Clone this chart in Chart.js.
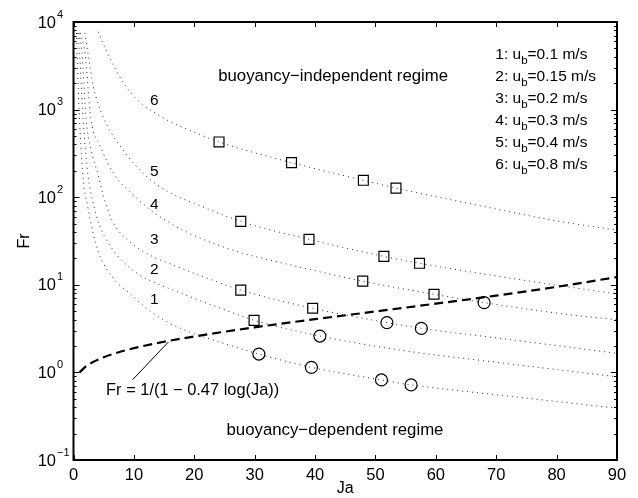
<!DOCTYPE html>
<html>
<head>
<meta charset="utf-8">
<script src="https://cdn.jsdelivr.net/npm/chart.js@4/dist/chart.umd.min.js"></script>
<style>
html,body{margin:0;padding:0;background:#fff;}
#wrap{width:638px;height:498px;}
</style>
</head>
<body>
<div id="wrap"><canvas id="c" width="638" height="498"></canvas></div>
<script>
// ---------------- data ----------------
const xTickValues = [0, 10, 20, 30, 40, 50, 60, 70, 80, 90];
const yMajorTicks = [0.1, 1, 10, 100, 1000, 10000];
const yTickExponents = ['\u22121', '0', '1', '2', '3', '4'];

const curve1Ja = [0.5, 0.6, 1.0, 1.6, 2.4, 3.2, 4.1, 5.4, 7.1, 9.3, 12.1, 15.4, 19.2, 24.8, 30.7, 39.4, 51, 55.9, 70.6, 90];
const curve1Fr = [7500, 4400, 760, 164, 75, 40, 23.9, 15.4, 10.8, 8.0, 5.4, 3.8, 2.9, 2.15, 1.62, 1.14, 0.82, 0.72, 0.55, 0.39];

const curve2Ja = [0.7, 1.0, 1.6, 2.4, 3.2, 4.3, 6.0, 8.2, 11, 13.7, 16.5, 22, 27.5, 29.9, 40.8, 54, 70.6, 90];
const curve2Fr = [7500, 4400, 760, 179, 89, 48, 28.4, 18.4, 12.9, 10.4, 8.7, 6.2, 4.5, 3.93, 2.6, 1.8, 1.29, 0.89];

const curve3Ja = [0.9, 1.4, 2.1, 3.0, 4.1, 4.9, 6.5, 9.3, 12.6, 16.5, 22, 27.7, 39.6, 51.9, 57.6, 70.6, 90];
const curve3Fr = [7500, 4400, 760, 330, 179, 106, 52.5, 31, 21.9, 16.8, 12.0, 8.7, 5.4, 3.7, 3.18, 2.45, 1.65];

const curve4Ja = [1.1, 1.9, 2.9, 4.3, 6.8, 9.3, 11, 14.3, 19.2, 27.5, 32.5, 47.9, 59.7, 68, 82.8, 90];
const curve4Fr = [7500, 4400, 760, 400, 179, 116, 90, 60, 38.7, 23.5, 19.2, 11.0, 7.8, 6.25, 4.5, 4.0];

const curve5Ja = [1.9, 2.4, 3.3, 4.9, 8.2, 12, 16, 20, 27.7, 39, 51.4, 57.3, 73.4, 90];
const curve5Fr = [7500, 4400, 1820, 830, 346, 175, 112, 85, 53, 33, 21.1, 17.6, 11.6, 7.85];

const curve6Ja = [4.1, 4.9, 6.6, 8.5, 11, 13.2, 16, 19.8, 24.1, 36.1, 48, 53.4, 68.1, 79.1, 90];
const curve6Fr = [7740, 5710, 3230, 1910, 1210, 946, 728, 560, 427, 248, 156, 127, 78, 55, 42];

const criterionJa = [1, 2, 3, 5, 7.5, 10, 15, 20, 30, 40, 50, 60, 70, 80, 90];
const criterionFr = [1.0, 1.165, 1.29, 1.49, 1.70, 1.89, 2.24, 2.57, 3.27, 4.05, 4.96, 6.09, 7.53, 9.48, 12.25];

const leaderJa = [15.7, 9.8];
const leaderFr = [2.22, 0.826];

const squareJa = [24.1, 36.1, 48, 53.4, 27.7, 39, 51.4, 57.3, 47.9, 59.7, 27.7, 39.6, 29.9];
const squareFr = [427, 248, 156, 127, 53, 33, 21.1, 17.6, 11.0, 7.8, 8.7, 5.4, 3.93];

const circleJa = [68, 51.9, 57.6, 40.8, 30.7, 39.4, 51, 55.9];
const circleFr = [6.25, 3.7, 3.18, 2.6, 1.62, 1.14, 0.82, 0.72];

const curveNames = ['1', '2', '3', '4', '5', '6'];
const curveLabelFr = [6.7, 14.8, 32.4, 81.5, 195, 1253];
const ubValues = ['0.1', '0.15', '0.2', '0.3', '0.4', '0.8'];

const titleX = 'Ja';
const titleY = 'Fr';
const upperRegime = 'buoyancy\u2212independent regime';
const lowerRegime = 'buoyancy\u2212dependent regime';
const formulaText = 'Fr = 1/(1 \u2212 0.47 log(Ja))';

// ---------------- helpers ----------------
const FONT = "'Liberation Sans', Arial, Helvetica, sans-serif";
const pts = (xs, ys) => xs.map((v, i) => ({x: v, y: ys[i]}));

const curveSets = [
  [curve1Ja, curve1Fr], [curve2Ja, curve2Fr], [curve3Ja, curve3Fr],
  [curve4Ja, curve4Fr], [curve5Ja, curve5Fr], [curve6Ja, curve6Fr]
];

const datasets = curveSets.map(([xs, ys], i) => ({
  label: 'curve ' + curveNames[i],
  data: pts(xs, ys),
  showLine: true,
  borderColor: '#2a2a2a',
  borderWidth: 1,
  borderDash: [1, 4],
  pointRadius: 0,
  cubicInterpolationMode: 'monotone',
  fill: false
}));

datasets.push({
  label: 'criterion',
  data: pts(criterionJa, criterionFr),
  showLine: true,
  borderColor: '#000',
  borderWidth: 2.2,
  borderDash: [9, 5],
  pointRadius: 0,
  cubicInterpolationMode: 'monotone',
  fill: false
});

datasets.push({
  label: 'leader',
  data: pts(leaderJa, leaderFr),
  showLine: true,
  borderColor: '#000',
  borderWidth: 1,
  pointRadius: 0,
  fill: false
});

datasets.push({
  label: 'squares',
  data: pts(squareJa, squareFr),
  showLine: false,
  pointStyle: 'rect',
  pointRadius: 7,
  borderColor: '#000',
  borderWidth: 1.2,
  backgroundColor: 'rgba(0,0,0,0)'
});

datasets.push({
  label: 'circles',
  data: pts(circleJa, circleFr),
  showLine: false,
  pointStyle: 'circle',
  pointRadius: 6,
  borderColor: '#000',
  borderWidth: 1.2,
  backgroundColor: 'rgba(0,0,0,0)'
});

// ---------------- decorations ----------------
const overlay = {
  id: 'overlay',
  afterDatasetsDraw(chart) {
    const ctx = chart.ctx;
    const a = chart.chartArea;
    const sx = chart.scales.x, sy = chart.scales.y;
    ctx.save();
    ctx.strokeStyle = '#000';
    ctx.fillStyle = '#000';
    ctx.lineWidth = 1;
    ctx.setLineDash([]);

    // x ticks (inward, top and bottom)
    ctx.beginPath();
    xTickValues.forEach(v => {
      const px = Math.round(sx.getPixelForValue(v)) + 0.5;
      ctx.moveTo(px, a.bottom); ctx.lineTo(px, a.bottom - 5);
      ctx.moveTo(px, a.top); ctx.lineTo(px, a.top + 5);
    });
    // y ticks (major + minor, inward, left and right)
    yMajorTicks.forEach(m => {
      for (let k = 1; k <= 9; k++) {
        const v = m * k;
        if (v > yMajorTicks[yMajorTicks.length - 1] * 1.0001) break;
        const py = Math.round(sy.getPixelForValue(v)) + 0.5;
        const len = k === 1 ? 6 : 3;
        ctx.moveTo(a.left, py); ctx.lineTo(a.left + len, py);
        ctx.moveTo(a.right, py); ctx.lineTo(a.right - len, py);
      }
    });
    ctx.stroke();

    // frame
    ctx.lineWidth = 2;
    ctx.strokeRect(a.left, a.top, a.right - a.left, a.bottom - a.top);

    // y tick labels 10^n
    yMajorTicks.forEach((v, i) => {
      const py = sy.getPixelForValue(v);
      ctx.font = '16.5px ' + FONT;
      ctx.textAlign = 'right';
      ctx.textBaseline = 'middle';
      ctx.fillText('10', a.left - 17.5, py + 1);
      ctx.font = '11px ' + FONT;
      ctx.textAlign = 'left';
      ctx.fillText(yTickExponents[i], a.left - 16.5, py - 7.5);
    });

    // axis titles
    ctx.font = '16px ' + FONT;
    ctx.textAlign = 'center';
    ctx.textBaseline = 'middle';
    ctx.fillText(titleX, (a.left + a.right) / 2, 489);
    ctx.save();
    ctx.translate(25, (a.top + a.bottom) / 2);
    ctx.rotate(-Math.PI / 2);
    ctx.fillText(titleY, 0, 0);
    ctx.restore();

    // curve numbers
    ctx.font = '15.5px ' + FONT;
    ctx.textAlign = 'center';
    curveNames.forEach((n, i) => {
      ctx.fillText(n, sx.getPixelForValue(13.4), sy.getPixelForValue(curveLabelFr[i]));
    });

    // regime labels
    ctx.font = '16.8px ' + FONT;
    ctx.textAlign = 'center';
    ctx.fillText(upperRegime, sx.getPixelForValue(43.0), sy.getPixelForValue(2421));
    ctx.fillText(lowerRegime, sx.getPixelForValue(43.3), sy.getPixelForValue(0.22));

    // formula
    ctx.font = '16.4px ' + FONT;
    ctx.textAlign = 'left';
    ctx.fillText(formulaText, sx.getPixelForValue(5.4), sy.getPixelForValue(0.614));

    // speed legend
    const lx = a.left + 421.8;
    ubValues.forEach((u, i) => {
      const ly = a.top + 33 + i * 21.95;
      let x0 = lx;
      ctx.font = '15.5px ' + FONT;
      ctx.textAlign = 'left';
      ctx.textBaseline = 'middle';
      const p1 = curveNames[i] + ': u';
      ctx.fillText(p1, x0, ly);
      x0 += ctx.measureText(p1).width;
      ctx.font = '11.5px ' + FONT;
      ctx.fillText('b', x0, ly + 6);
      x0 += ctx.measureText('b').width;
      ctx.font = '15.5px ' + FONT;
      ctx.fillText('=' + u + ' m/s', x0, ly);
    });

    ctx.restore();
  }
};

new Chart(document.getElementById('c'), {
  type: 'scatter',
  data: {datasets},
  options: {
    responsive: false,
    animation: false,
    devicePixelRatio: 1,
    layout: {padding: {left: 0, right: 21, top: 22, bottom: 0}},
    plugins: {legend: {display: false}, tooltip: {enabled: false}},
    scales: {
      x: {
        type: 'linear',
        min: 0, max: 90,
        grid: {display: false, drawTicks: false},
        border: {display: false},
        ticks: {
          stepSize: 10,
          autoSkip: false,
          maxRotation: 0,
          color: '#000',
          padding: 6,
          font: {size: 16.5, family: FONT}
        },
        afterFit: s => { s.height = 38; }
      },
      y: {
        type: 'logarithmic',
        min: 0.1, max: 10000,
        grid: {display: false, drawTicks: false},
        border: {display: false},
        ticks: {display: false},
        afterFit: s => { s.width = 73.5; }
      }
    }
  },
  plugins: [overlay]
});
</script>
</body>
</html>
